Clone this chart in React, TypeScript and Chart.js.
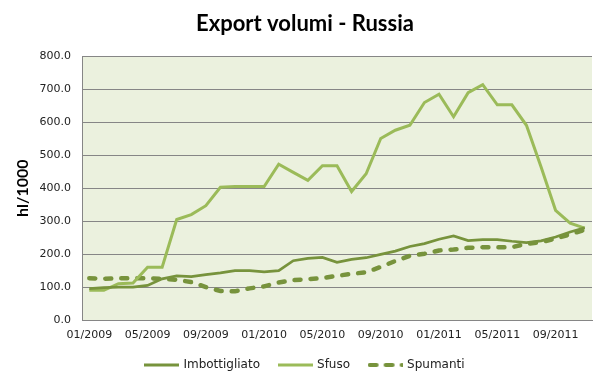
import React, { useEffect, useRef } from "react";
import { Chart, registerables } from "chart.js";

Chart.register(...registerables);

const categories = [
  "01/2009", "02/2009", "03/2009", "04/2009", "05/2009", "06/2009", "07/2009", "08/2009", "09/2009", "10/2009", "11/2009", "12/2009",
  "01/2010", "02/2010", "03/2010", "04/2010", "05/2010", "06/2010", "07/2010", "08/2010", "09/2010", "10/2010", "11/2010", "12/2010",
  "01/2011", "02/2011", "03/2011", "04/2011", "05/2011", "06/2011", "07/2011", "08/2011", "09/2011", "10/2011", "11/2011",
];

const imbottigliato = [95, 98, 100, 100, 105, 125, 134, 132, 138, 143, 150, 150, 146, 150, 180, 187, 190, 175, 184, 189, 199, 209, 223, 232, 245, 255, 241, 244, 244, 239, 235, 240, 252, 267, 280];
const sfuso = [90, 90, 110, 112, 160, 160, 305, 320, 347, 403, 405, 405, 405, 473, 448, 424, 468, 468, 390, 444, 551, 576, 591, 660, 685, 617, 690, 714, 653, 653, 591, 465, 333, 294, 279];
const spumanti = [127, 125, 127, 127, 127, 125, 122, 115, 100, 88, 87, 96, 102, 114, 121, 124, 127, 134, 140, 145, 161, 179, 195, 201, 211, 214, 219, 221, 221, 221, 231, 236, 247, 260, 274];

const yTicks = [0, 100, 200, 300, 400, 500, 600, 700, 800];

const DARK = "#77933C";
const LIGHT = "#9BBB59";

const plotBg = {
  id: "plotBg",
  beforeDraw(chart: any) {
    const { ctx, chartArea } = chart;
    if (!chartArea) return;
    ctx.save();
    ctx.fillStyle = "#EBF1DE";
    ctx.fillRect(chartArea.left, chartArea.top, chartArea.right - chartArea.left, chartArea.bottom - chartArea.top);
    ctx.restore();
  },
};

function legendLine(color: string, width: number, dash: number[] | null) {
  const c = document.createElement("canvas");
  c.width = 35;
  c.height = 6;
  const g = c.getContext("2d")!;
  g.strokeStyle = color;
  g.lineWidth = width;
  if (dash) {
    g.lineCap = "round";
    // dash segments drawn with round caps
    let x = 2;
    for (const seg of dash) {
      g.beginPath();
      g.moveTo(x, 3);
      g.lineTo(x + seg, 3);
      g.stroke();
      x += seg + width + 5;
    }
  } else {
    g.beginPath();
    g.moveTo(0, 3);
    g.lineTo(35, 3);
    g.stroke();
  }
  return c;
}

export default function App() {
  const ref = useRef<HTMLCanvasElement | null>(null);
  useEffect(() => {
    if (!ref.current) return;
    const styles = [
      legendLine(DARK, 3, null),
      legendLine(LIGHT, 3, null),
      legendLine(DARK, 4, [7, 7, 0.01]),
    ];
    const chart = new Chart(ref.current, {
      type: "line",
      data: {
        labels: categories,
        datasets: [
          {
            label: "Imbottigliato",
            data: imbottigliato,
            borderColor: DARK,
            backgroundColor: DARK,
            borderWidth: 2.75,
            pointRadius: 0,
            tension: 0,
          },
          {
            label: "Sfuso",
            data: sfuso,
            borderColor: LIGHT,
            backgroundColor: LIGHT,
            borderWidth: 3,
            pointRadius: 0,
            tension: 0,
          },
          {
            label: "Spumanti",
            data: spumanti,
            borderColor: DARK,
            backgroundColor: DARK,
            borderWidth: 4.5,
            borderDash: [6, 10],
            borderCapStyle: "round",
            pointRadius: 0,
            tension: 0,
          },
        ],
      },
      options: {
        responsive: false,
        animation: false,
        layout: { padding: { left: 3, right: 0, top: 0, bottom: 5 } },
        plugins: {
          title: {
            display: true,
            text: "Export volumi - Russia",
            color: "#000",
            font: { family: "Lato", size: 22, weight: "bold" },
            padding: { top: 11, bottom: 19 },
          },
          legend: {
            position: "bottom",
            labels: {
              usePointStyle: true,
              pointStyleWidth: 32,
              color: "#222",
              font: { family: "DejaVu Sans", size: 12 },
              padding: 19,
              generateLabels: (ch: any) => {
                const items = Chart.defaults.plugins.legend.labels.generateLabels(ch);
                return items.map((it: any, i: number) => ({ ...it, pointStyle: styles[i] }));
              },
            },
          },
          tooltip: { enabled: false },
        },
        scales: {
          x: {
            type: "category",
            offset: true,
            grid: { display: false, drawTicks: false },
            border: { display: true, color: "#868686", width: 1 },
            ticks: {
              autoSkip: false,
              maxRotation: 0,
              minRotation: 0,
              padding: 9,
              color: "#222",
              font: { family: "DejaVu Sans", size: 11 },
              callback: (_v: any, i: number) => (i % 4 === 0 ? categories[i] : ""),
            },
            afterFit: (s: any) => {
              s.height = 20;
            },
          },
          y: {
            min: 0,
            max: 800,
            afterBuildTicks: (s: any) => {
              s.ticks = yTicks.map((v) => ({ value: v }));
            },
            grid: { color: "#868686", lineWidth: 1, drawTicks: false },
            border: { display: true, color: "#868686", width: 1 },
            ticks: {
              padding: 11,
              color: "#222",
              font: { family: "DejaVu Sans", size: 11 },
              callback: (v: any) => Number(v).toFixed(1),
            },
            title: {
              display: true,
              text: "hl/1000",
              color: "#000",
              font: { family: "Lato", size: 16, weight: "bold" },
              padding: { top: 10, bottom: 0 },
            },
            afterFit: (s: any) => {
              s.width = 79;
            },
          },
          yRight: {
            position: "right",
            min: 0,
            max: 1,
            grid: { display: false, drawTicks: false },
            border: { display: false },
            ticks: { display: false },
            afterFit: (s: any) => {
              s.width = 15;
            },
          },
        },
      },
      plugins: [plotBg],
    });
    return () => chart.destroy();
  }, []);
  return (
    <div style={{ position: "fixed", left: 0, top: 0, width: 607, height: 386, background: "#fff" }}>
      <canvas ref={ref} width={607} height={386} style={{ display: "block", width: 607, height: 386 }} />
    </div>
  );
}
